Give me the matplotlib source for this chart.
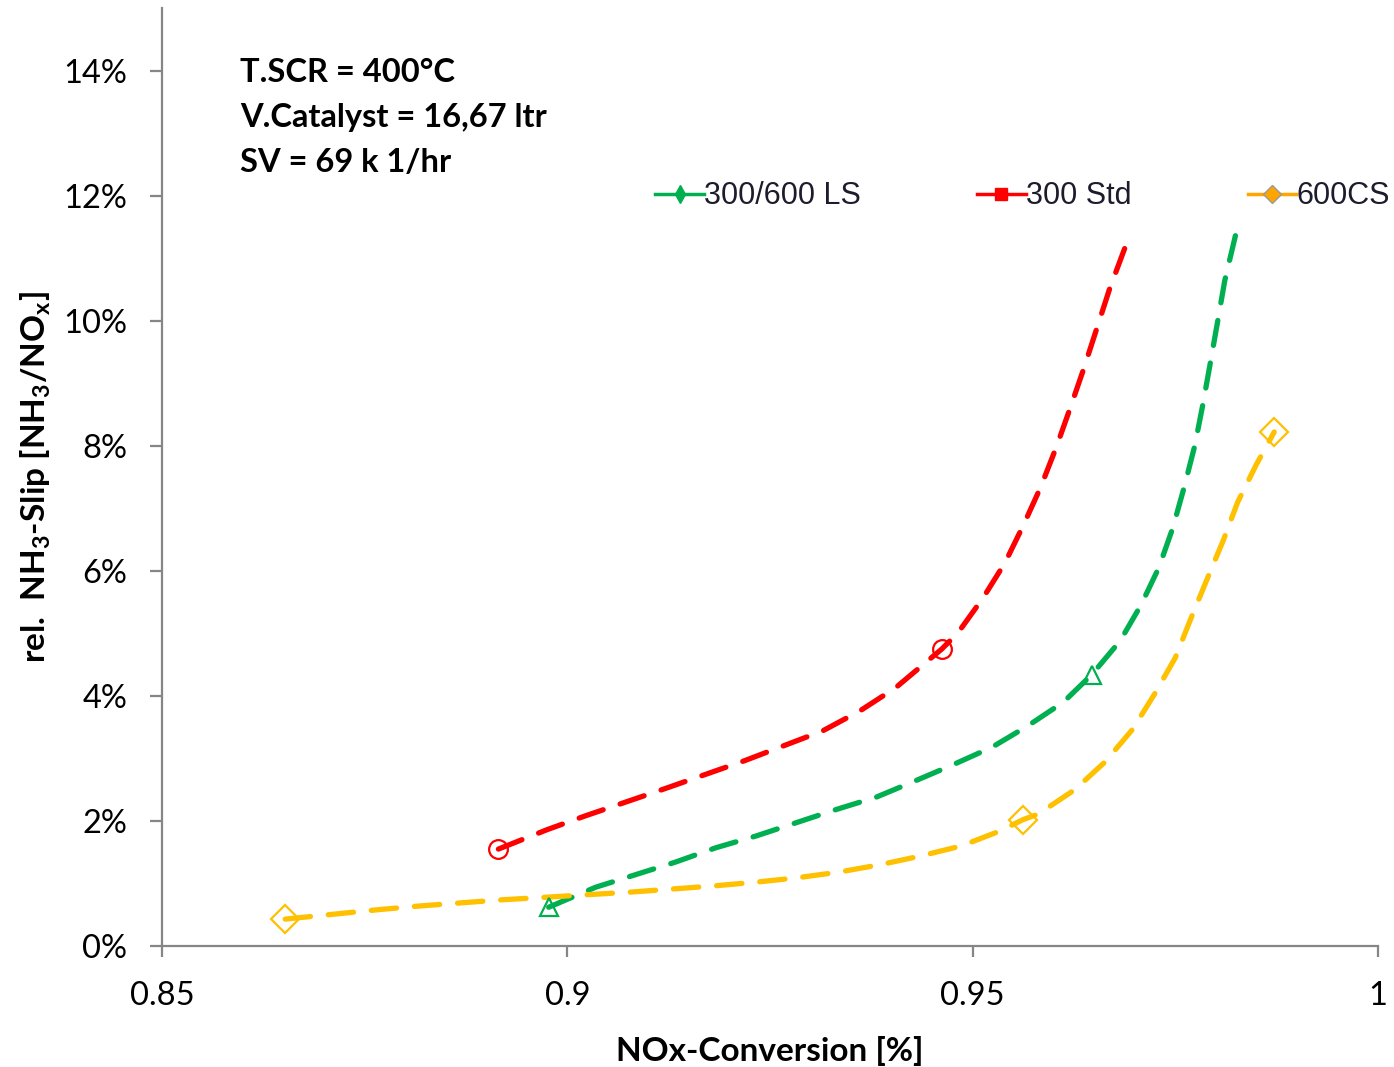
import matplotlib
matplotlib.use("Agg")
import matplotlib.pyplot as plt
from matplotlib.lines import Line2D

# Courbes (NOx-Conversion, NH3-Slip relatif)
x_std = [0.8915, 0.8975, 0.9022, 0.9119, 0.9218, 0.9315, 0.9361, 0.9405, 0.9462, 0.9482,
         0.9513, 0.9540, 0.9563, 0.9584, 0.9603, 0.9620, 0.9637, 0.9653, 0.9669, 0.9692]
y_std = [0.0155, 0.0186, 0.0208, 0.0251, 0.0296, 0.0344, 0.0376, 0.0413, 0.0475, 0.0501,
         0.0557, 0.0613, 0.0674, 0.0734, 0.0797, 0.0859, 0.0923, 0.0987, 0.1051, 0.1131]

x_ls = [0.8977, 0.9035, 0.9084, 0.9133, 0.9183, 0.9233, 0.9282, 0.9331, 0.9381, 0.9429,
        0.9476, 0.9524, 0.9568, 0.9612, 0.9647, 0.9682, 0.9708, 0.9730, 0.9747, 0.9761,
        0.9774, 0.9784, 0.9793, 0.9802, 0.9811, 0.9826]
y_ls = [0.0062, 0.0094, 0.0114, 0.0134, 0.0157, 0.0176, 0.0197, 0.0218, 0.0238, 0.0264,
        0.0290, 0.0318, 0.0352, 0.0390, 0.0434, 0.0488, 0.0546, 0.0606, 0.0669, 0.0734,
        0.0800, 0.0866, 0.0931, 0.0997, 0.1064, 0.1146]

x_cs = [0.8652, 0.8713, 0.8766, 0.8818, 0.8869, 0.8921, 0.8974, 0.9024, 0.9076, 0.9128,
        0.9180, 0.9232, 0.9283, 0.9334, 0.9386, 0.9436, 0.9486, 0.9534, 0.9562, 0.9581,
        0.9626, 0.9663, 0.9697, 0.9724, 0.9750, 0.9769, 0.9789, 0.9809, 0.9827, 0.9850,
        0.9872]
y_cs = [0.0043, 0.0051, 0.0058, 0.0064, 0.0069, 0.0074, 0.0078, 0.0082, 0.0086, 0.0091,
        0.0096, 0.0102, 0.0109, 0.0118, 0.0130, 0.0144, 0.0160, 0.0184, 0.0202, 0.0211,
        0.0250, 0.0294, 0.0346, 0.0402, 0.0461, 0.0523, 0.0586, 0.0648, 0.0710, 0.0770,
        0.0822]

# Points mesurés (marqueurs)
pts_std_x = [0.8915, 0.9462]
pts_std_y = [0.0155, 0.0475]
pts_ls_x = [0.8977, 0.9647]
pts_ls_y = [0.0062, 0.0434]
pts_cs_x = [0.8652, 0.9562, 0.9872]
pts_cs_y = [0.0043, 0.0202, 0.0822]

series_names = ["300/600 LS", "300 Std", "600CS"]
x_ticks = [0.85, 0.9, 0.95, 1.0]
x_tick_labels = ["0.85", "0.9", "0.95", "1"]
y_ticks = [0.0, 0.02, 0.04, 0.06, 0.08, 0.10, 0.12, 0.14]
y_tick_labels = ["0%", "2%", "4%", "6%", "8%", "10%", "12%", "14%"]
info_lines = ["T.SCR = 400°C", "V.Catalyst = 16,67 ltr", "SV = 69 k 1/hr"]

rouge = "#ff0000"
vert = "#00b050"
jaune = "#ffc000"
gris = "#868686"

plt.rcParams["font.family"] = ["Lato", "DejaVu Sans"]
plt.rcParams["mathtext.fontset"] = "custom"
plt.rcParams["mathtext.rm"] = "Lato"
plt.rcParams["mathtext.bf"] = "Lato:bold"

fig = plt.figure(figsize=(13.94, 10.67), dpi=100)
ax = fig.add_axes([0.1162, 0.1134, 0.8723, 0.8791])

style = dict(linestyle="--", linewidth=3.8, dashes=(4.8, 3.4), dash_capstyle="round")
ax.plot(x_std, y_std, color=rouge, **style)
ax.plot(x_ls, y_ls, color=vert, **style)
ax.plot(x_cs, y_cs, color=jaune, **style)

ax.plot(pts_std_x, pts_std_y, "o", ms=13.5, mfc="none", mec=rouge, mew=1.6)
ax.plot(pts_ls_x, pts_ls_y, "^", ms=13.5, mfc="none", mec=vert, mew=1.6)
ax.plot(pts_cs_x, pts_cs_y, "D", ms=14.5, mfc="none", mec=jaune, mew=1.6)

ax.set_xlim(0.85, 1.0)
ax.set_ylim(0, 0.15)
ax.set_xticks(x_ticks)
ax.set_xticklabels(x_tick_labels)
ax.set_yticks(y_ticks)
ax.set_yticklabels(y_tick_labels)

for side in ["top", "right"]:
    ax.spines[side].set_visible(False)
for side in ["left", "bottom"]:
    ax.spines[side].set_color(gris)
    ax.spines[side].set_linewidth(1.6)

ax.tick_params(axis="y", length=9, width=1.6, color=gris, pad=16, labelsize=23.5)
ax.tick_params(axis="x", length=8, width=1.6, color=gris, pad=17, labelsize=23.5)

ax.set_xlabel("NOx-Conversion [%]", fontsize=24, fontweight="bold", labelpad=18)
ax.set_ylabel(r"rel.  NH$_\mathbf{3}$-Slip [NH$_\mathbf{3}$/NO$_\mathbf{x}$]",
              fontsize=24, fontweight="bold")
ax.yaxis.set_label_coords(-0.09, 0.5)

for i, txt in enumerate(info_lines):
    ax.text(0.064, 0.931 - i * 0.048, txt, transform=ax.transAxes,
            fontsize=23.5, fontweight="bold", va="center", ha="left")

# Légende (symboles pleins, traits continus)
handles = [
    Line2D([0], [0], color=vert, lw=2.5, marker="d", ms=9, mfc=vert, mec=vert),
    Line2D([0], [0], color=rouge, lw=2.5, marker="s", ms=9, mfc=rouge, mec=rouge),
    Line2D([0], [0], color="#ffa500", lw=2.5, marker="D", ms=9, mfc="#ffa500", mec="#999999"),
]
leg = fig.legend(handles, series_names, loc="center left", ncol=3,
                 bbox_to_anchor=(0.47, 0.816), bbox_transform=fig.transFigure,
                 frameon=False, handlelength=1.6, handletextpad=0.0,
                 columnspacing=3.8, borderpad=0, borderaxespad=0,
                 prop={"family": "Liberation Sans", "size": 22})
for t in leg.get_texts():
    t.set_color("#1c1c2c")

fig.savefig("out.png", dpi=100)
